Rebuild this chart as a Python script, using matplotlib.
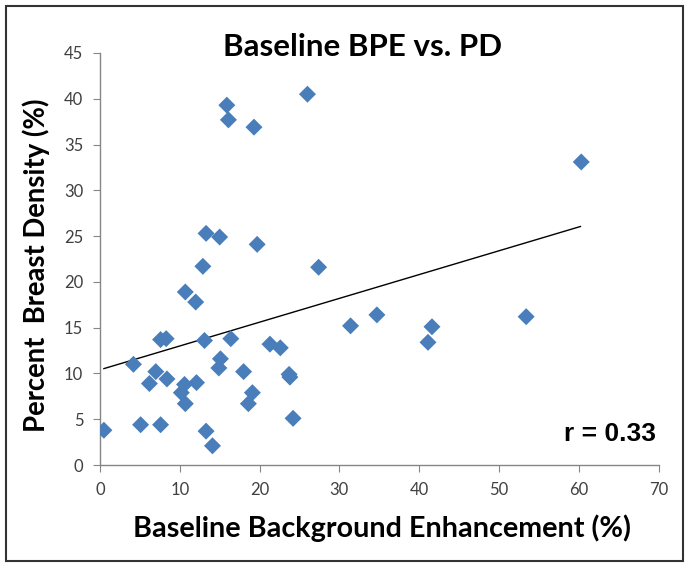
import numpy as np
import matplotlib
matplotlib.use("Agg")
import matplotlib.pyplot as plt
from matplotlib.patches import Rectangle

# Baseline background parenchymal enhancement (%) vs percent breast density (%)
bpe = [0.5, 5.1, 7.6, 4.2, 7.0, 6.2, 8.4, 7.6, 8.3, 10.7,
       12.0, 12.9, 13.1, 10.6, 10.2, 10.7, 12.1, 13.3, 14.1, 15.1,
       14.9, 16.4, 18.0, 19.1, 18.6, 21.3, 22.6, 23.7, 23.8, 24.2,
       19.7, 27.4, 13.3, 15.0, 15.9, 16.1, 19.3, 26.0, 60.3, 31.4,
       34.7, 41.6, 41.1, 53.4]
pd_vals = [3.8, 4.4, 4.4, 11.0, 10.2, 8.9, 9.4, 13.7, 13.8, 18.9,
           17.8, 21.7, 13.6, 8.8, 7.9, 6.7, 9.0, 3.7, 2.1, 11.6,
           10.6, 13.8, 10.2, 7.9, 6.7, 13.2, 12.8, 9.9, 9.6, 5.1,
           24.1, 21.6, 25.3, 24.9, 39.3, 37.7, 36.9, 40.5, 33.1, 15.2,
           16.4, 15.1, 13.4, 16.2]

# trend line
trend_x = [0.5, 60.2]
trend_intercept = 10.4
trend_slope = 0.26

x_ticks = [0, 10, 20, 30, 40, 50, 60, 70]
y_ticks = [0, 5, 10, 15, 20, 25, 30, 35, 40, 45]

fig = plt.figure(figsize=(6.89, 5.68), dpi=100)
ax = fig.add_axes([0.145, 0.1813, 0.811, 0.7254])

ax.scatter(bpe, pd_vals, marker="D", s=75, color="#4A7EBB", edgecolors="none", zorder=3)
tx = np.array(trend_x)
ax.plot(tx, trend_intercept + trend_slope * tx, color="black", lw=1.0, zorder=2)

ax.set_xlim(0, 70)
ax.set_ylim(0, 45)
ax.set_xticks(x_ticks)
ax.set_yticks(y_ticks)

for side in ["top", "right"]:
    ax.spines[side].set_visible(False)
for side in ["left", "bottom"]:
    ax.spines[side].set_color("#868686")
    ax.spines[side].set_linewidth(1.0)
ax.tick_params(direction="out", length=5, color="#868686", labelsize=12,
               labelcolor="#404040", pad=7)
for lab in ax.get_xticklabels() + ax.get_yticklabels():
    lab.set_family("Lato")

fig.text(363 / 689, 1 - 56 / 568, "Baseline BPE vs. PD", fontsize=22.5, fontweight="bold",
         family="Lato", ha="center", va="baseline")
fig.text(382 / 689, 1 - 528 / 568, "Baseline Background Enhancement (%)", fontsize=20.7,
         fontweight="bold", family="Lato", ha="center", va="center")
fig.text(36 / 689, 1 - 265 / 568, "Percent  Breast Density (%)", fontsize=19.8,
         fontweight="bold", family="Lato", ha="center", va="center", rotation=90)
ax.text(0.995, 0.045, "r = 0.33", transform=ax.transAxes, ha="right", va="bottom",
        fontsize=19, fontweight="bold", family="Liberation Sans")

fig.patches.append(Rectangle((0.008, 0.012), 0.984, 0.978, transform=fig.transFigure,
                             fill=False, edgecolor="#333333", lw=1.5))

plt.savefig("out.png", dpi=100)
plt.close()
